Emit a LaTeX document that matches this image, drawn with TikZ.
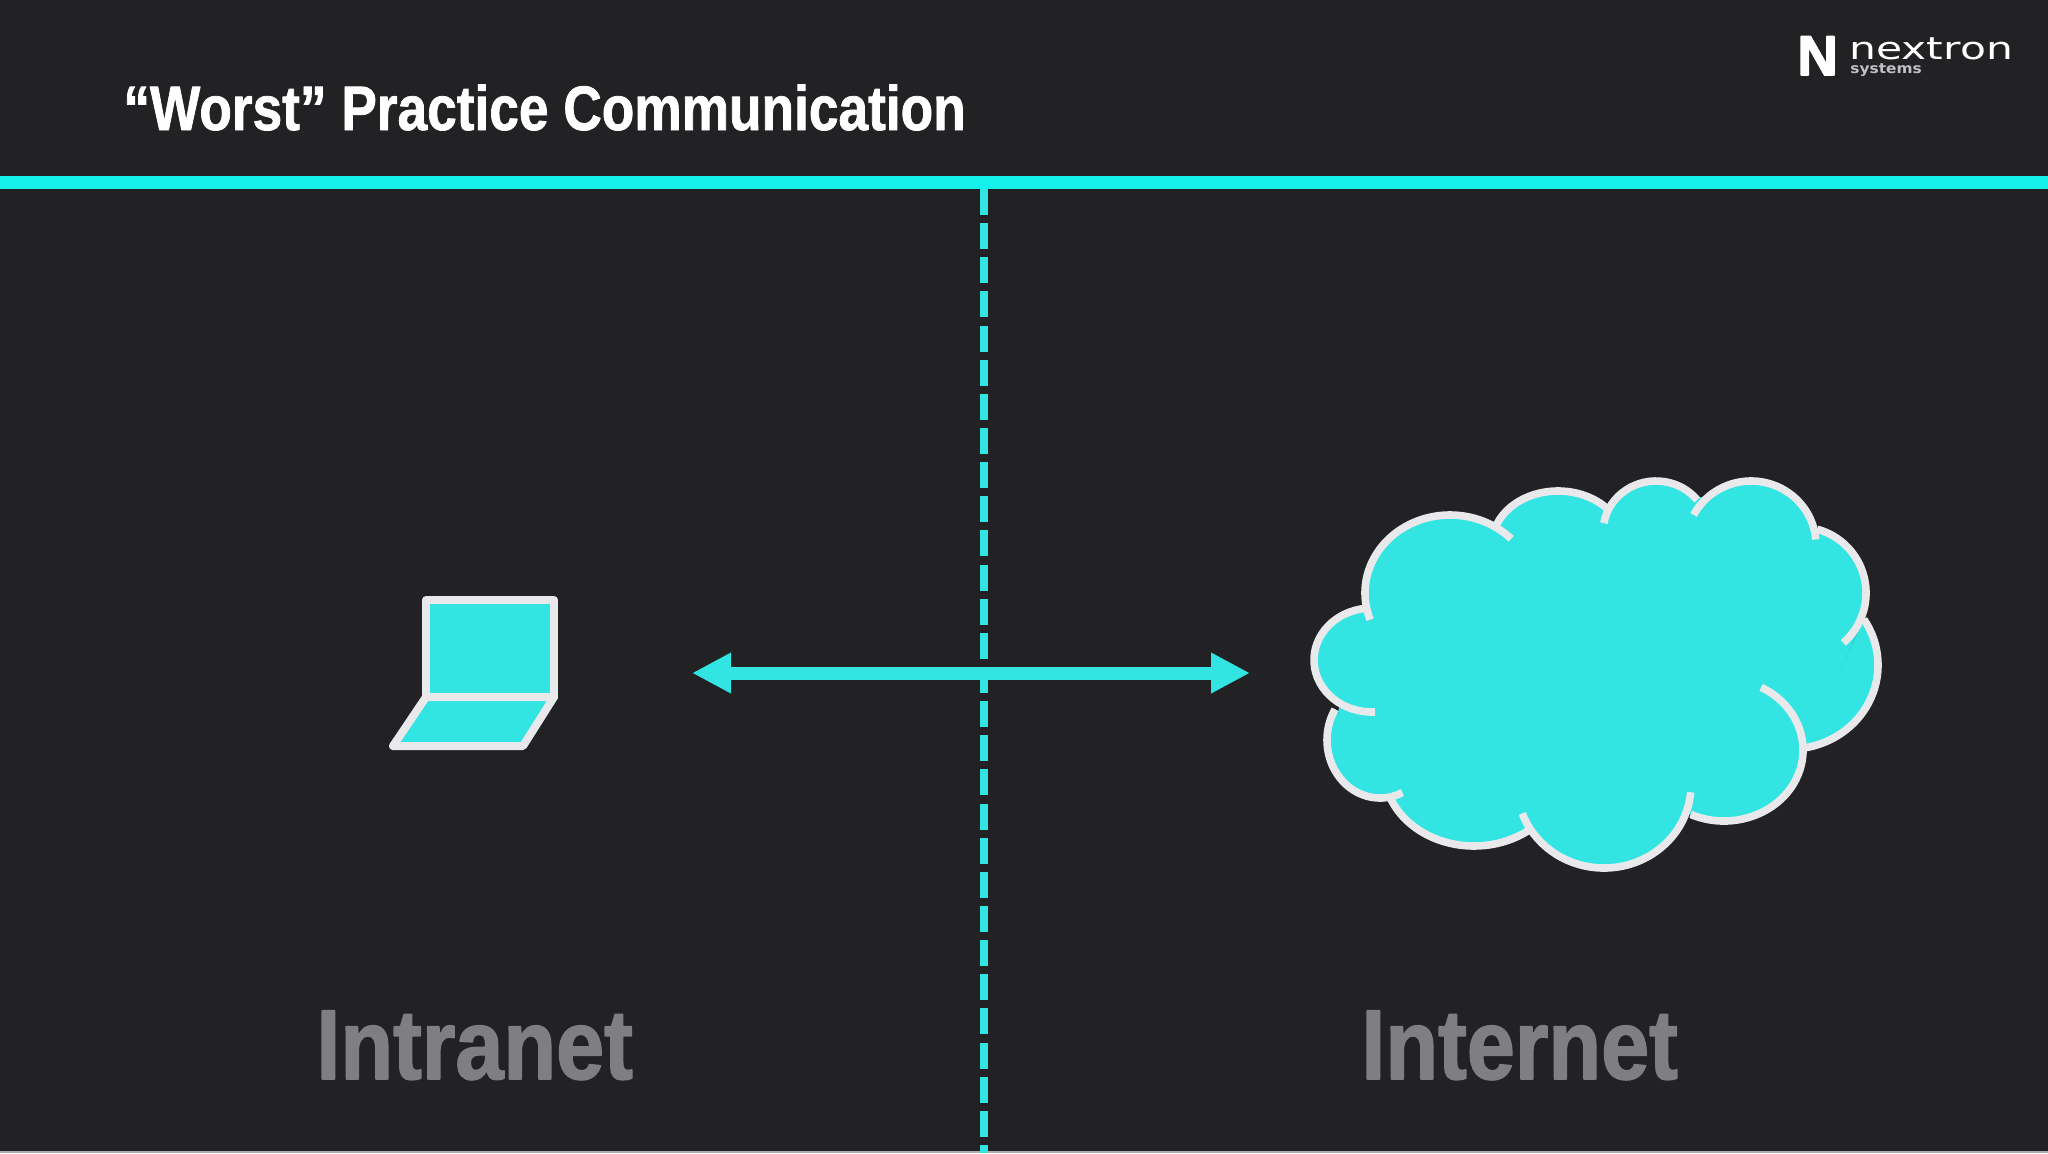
\documentclass[tikz,border=0pt]{standalone}
\usepackage{fontspec}
\usetikzlibrary{arrows.meta}
\setmainfont{Liberation Sans}
\newfontfamily\slidefont[FakeStretch=0.848,BoldFeatures={FakeBold=1.2}]{Liberation Sans}
\newfontfamily\zonefont[FakeStretch=0.87,BoldFeatures={FakeBold=1.6}]{Liberation Sans}
\newfontfamily\markfont[FakeStretch=1.0,BoldFeatures={FakeBold=3}]{Liberation Sans}
\newfontfamily\logofont[FakeStretch=1.37]{DejaVu Sans}
\newfontfamily\logosubfont[FakeStretch=1.1]{DejaVu Sans}
\definecolor{slidebg}{HTML}{222224}
\definecolor{bandcyan}{HTML}{14F0EA}
\definecolor{cloudcyan}{HTML}{32E4E2}
\definecolor{edgegray}{HTML}{E9E9EB}
\definecolor{labelgray}{HTML}{7F7F83}
\newcommand{\cloudlobes}[1]{%
	\foreach \cx/\cy/\rx/\ry/\a/\b in {1450/593/85/78/160/316,1558/544/66/53/202/318,1656/532/53/51/190/321,
		1751/545/65/64/208/355,1800/593/66/66/285/409,1790/665/88/84/327/441,1724/750/79/71/298/475,
		1604/785/87/83/5/160,1474/770/90/76/53/159,1380/740/53/58/65/212,1372/660/58/52/87/264}
	\path[#1] ({\cx+\rx*cos(\a)},{\cy+\ry*sin(\a)}) arc[start angle=\a,end angle=\b,x radius=\rx,y radius=\ry];
}
\begin{document}
\begin{tikzpicture}[x=0.5pt,y=-0.5pt,line join=round,
		heading/.style={anchor=base west,inner sep=0pt,white,font=\slidefont\bfseries\fontsize{31.4}{34}\selectfont},
		zonelabel/.style={anchor=base west,inner sep=0pt,labelgray,font=\zonefont\bfseries\fontsize{49.6}{52}\selectfont},
		cloudfill/.style={fill=cloudcyan,draw=cloudcyan,line width=1pt},
		cloudline/.style={draw=edgegray,line width=3.8pt},
		laptop/.style={fill=cloudcyan,draw=edgegray,line width=4pt}]
	\useasboundingbox (0,0) rectangle (2048,1153);
	\fill[edgegray!70!slidebg] (0,0) rectangle (2048,1153);
	\fill[slidebg] (0,0) rectangle (2048,1151);
	\path (0,182.5) coordinate (bandL)
	(2048,182.5) coordinate (bandR)
	(984,189) coordinate (borderT)
	(984,1153) coordinate (borderB)
	(692,673) coordinate (arrowL)
	(1250,673) coordinate (arrowR)
	;
	% header
	\node[heading] (title) at (123,130) {“Worst” Practice Communication};
	\node[anchor=base west,inner sep=0pt,white,font=\markfont\bfseries\fontsize{28}{30}\selectfont] (logoN) at (1797,75) {N};
	\node[anchor=base west,inner sep=0pt,white,font=\logofont\fontsize{15.5}{16}\selectfont] (logoname) at (1849,59) {nextron};
	\node[anchor=base west,inner sep=0pt,edgegray!80!slidebg,font=\logosubfont\bfseries\fontsize{7}{7.5}\selectfont] (logosub) at (1850,73) {systems};
	\draw[bandcyan,line width=6.8pt] (bandL)--(bandR);
	% boundary and arrow
	\draw[cloudcyan,line width=4pt,dash pattern=on 13pt off 4.07pt] (borderT)--(borderB);
	\draw[{Triangle[length=19.5pt,width=19pt]}-{Triangle[length=19.5pt,width=19pt]},cloudcyan,line width=6.5pt] (arrowL)--(arrowR);
	% laptop
	\draw[laptop] (426,600) rectangle (554,697);
	\draw[laptop] (426,697)--(554,697)--(523,746)--(393,746)--cycle;
	% cloud
	\fill[cloudfill] (1366,612)--(1500,521)--(1607,506)--(1700,498)--(1815,532)--(1862,620)--(1804,748)--(1690,813)--(1529,833)--(1390,798)--(1339,712)--cycle;
	\cloudlobes{cloudfill}
	\cloudlobes{cloudline}
	% zones
	\node[zonelabel] (intranet) at (316,1079) {Intranet};
	\node[zonelabel] (internet) at (1361,1079) {Internet};
\end{tikzpicture}
\end{document}
